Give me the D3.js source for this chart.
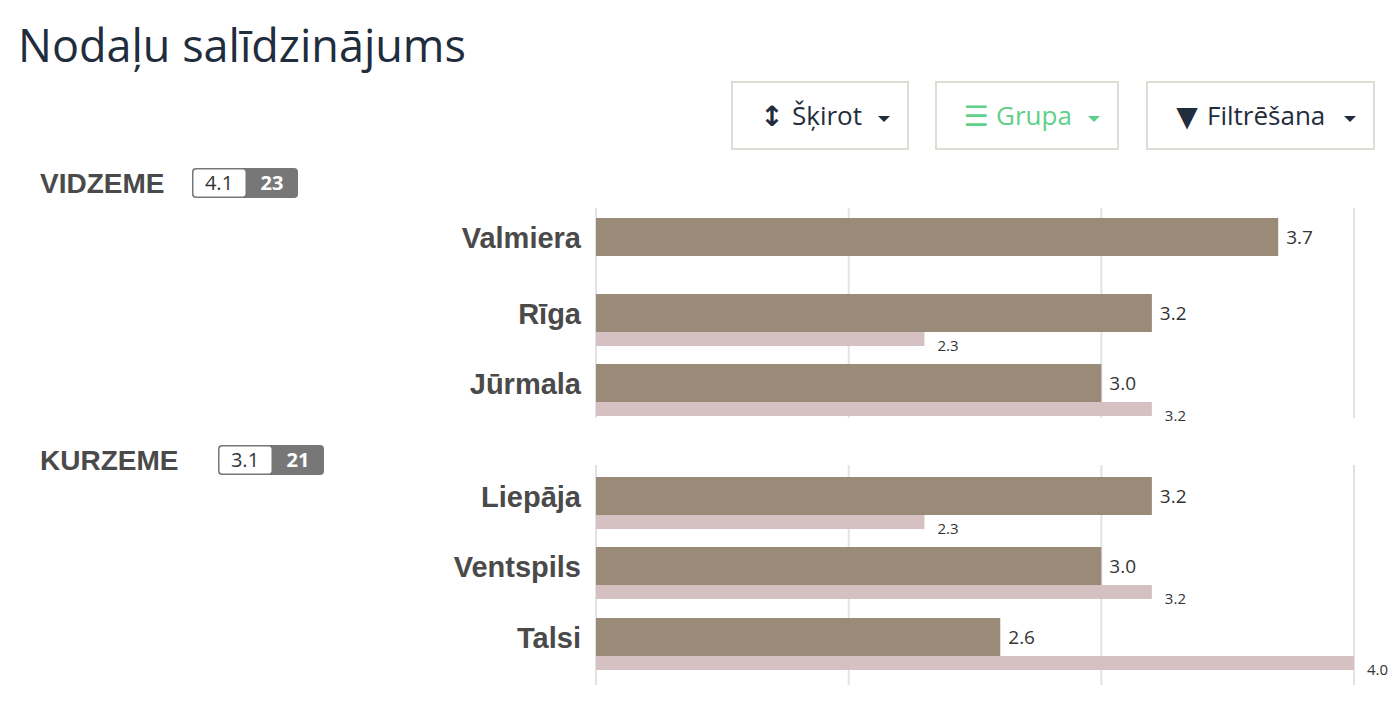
<!doctype html>
<html lang="lv">
<head>
<meta charset="UTF-8" />
<script src="https://d3js.org/d3.v7.min.js"></script>
<style>
body { margin: 0; background: #fff; }
</style>
</head>
<body>
<svg id="chart" width="1400" height="710"></svg>
<script>
// Data
const groups = ["VIDZEME", "KURZEME"]
const groupScores = [4.1, 3.1]
const groupCounts = [23, 21]
const cities = [["Valmiera", "Rīga", "Jūrmala"], ["Liepāja", "Ventspils", "Talsi"]]
const mainValues = [[3.7, 3.2, 3.0], [3.2, 3.0, 2.6]]
const compareValues = [[null, 2.3, 3.2], [2.3, 3.2, 4.0]]
const gridTicks = [1, 2, 3, 4]

const svg = d3.select("#chart")
const x = d3.scaleLinear().domain([1, 4]).range([596, 1354])

svg.append("text").attr("x", 18).attr("y", 62)
    .attr("font-family", "Open Sans").attr("font-size", 45).attr("fill", "#1f2d3d")
    .text("Nodaļu salīdzinājums")

// Buttons
const buttons = [
    { x: 732, w: 176, label: "Šķirot", icon: "↕", color: "#1f2d3d" },
    { x: 936, w: 182, label: "Grupa", icon: "☰", color: "#5fd08a" },
    { x: 1147, w: 227, label: "Filtrēšana", icon: "▼", color: "#1f2d3d" }
]
buttons.forEach(b => {
    const g = svg.append("g").attr("transform", `translate(${b.x},82)`)
    g.append("rect").attr("width", b.w).attr("height", 67).attr("fill", "#fff").attr("stroke", "#d9dfd2").attr("stroke-width", 2)
    g.append("text").attr("x", 40).attr("y", 44).attr("font-family", "DejaVu Sans").attr("font-size", 28)
        .attr("fill", b.color).attr("font-weight", "bold").attr("text-anchor", "middle").text(b.icon)
    g.append("text").attr("x", 60).attr("y", 43).attr("font-family", "Open Sans")
        .attr("font-size", 26).attr("fill", b.color).text(b.label)
    g.append("path").attr("d", `M${b.w - 30},34 l12,0 l-6,6 z`).attr("fill", b.color)
})

const tops = [208, 465]
const labelY = [183, 460]
const badgeX = [192, 218]
const rowY = [[218, 294, 364], [477, 547, 618]]

groups.forEach((grp, gi) => {
    const top = tops[gi]
    svg.append("text").attr("x", 40).attr("y", labelY[gi] + 10)
        .attr("font-family", "Liberation Sans, Arial").attr("font-weight", "bold").attr("font-size", 28)
        .attr("fill", "#4a4a4a").text(grp)
    const bx = badgeX[gi]
    const b = svg.append("g").attr("transform", `translate(${bx},${labelY[gi] - 15})`)
    b.append("rect").attr("width", 106).attr("height", 30).attr("rx", 4).attr("fill", "#777")
    b.append("rect").attr("x", 1.5).attr("y", 1.5).attr("width", 52).attr("height", 27).attr("rx", 3).attr("fill", "#fff")
    b.append("text").attr("x", 27).attr("y", 22).attr("text-anchor", "middle").attr("font-family", "Open Sans")
        .attr("font-size", 20).attr("fill", "#333").text(groupScores[gi])
    b.append("text").attr("x", 80).attr("y", 22).attr("text-anchor", "middle").attr("font-family", "Open Sans")
        .attr("font-weight", "bold").attr("font-size", 20).attr("fill", "#fff").text(groupCounts[gi])

    const bottom = top + 220
    svg.selectAll(null).data(gridTicks).enter().append("line")
        .attr("x1", d => x(d)).attr("x2", d => x(d))
        .attr("y1", top).attr("y2", bottom - (gi === 0 ? 10 : 0))
        .attr("stroke", "#e2e2e2").attr("stroke-width", 2)

    cities[gi].forEach((c, i) => {
        const y0 = rowY[gi][i]
        svg.append("text").attr("x", 581).attr("y", y0 + 30).attr("text-anchor", "end")
            .attr("font-family", "Liberation Sans, Arial").attr("font-weight", "bold").attr("font-size", 29)
            .attr("fill", "#4a4a4a").text(c)
        const v = mainValues[gi][i]
        svg.append("rect").attr("x", x(1)).attr("y", y0).attr("width", x(v) - x(1)).attr("height", 38).attr("fill", "#9a8b79")
        svg.append("text").attr("x", x(v) + 8).attr("y", y0 + 26).attr("font-family", "Open Sans")
            .attr("font-size", 19).attr("fill", "#333").text(v.toFixed(1))
        const cv = compareValues[gi][i]
        if (cv != null) {
            svg.append("rect").attr("x", x(1)).attr("y", y0 + 38).attr("width", x(cv) - x(1)).attr("height", 14).attr("fill", "#d5c1c1")
            svg.append("text").attr("x", x(cv) + 13).attr("y", y0 + 57).attr("font-family", "Open Sans")
                .attr("font-size", 15).attr("fill", "#333").text(cv.toFixed(1))
        }
    })
})
</script>
</body>
</html>
